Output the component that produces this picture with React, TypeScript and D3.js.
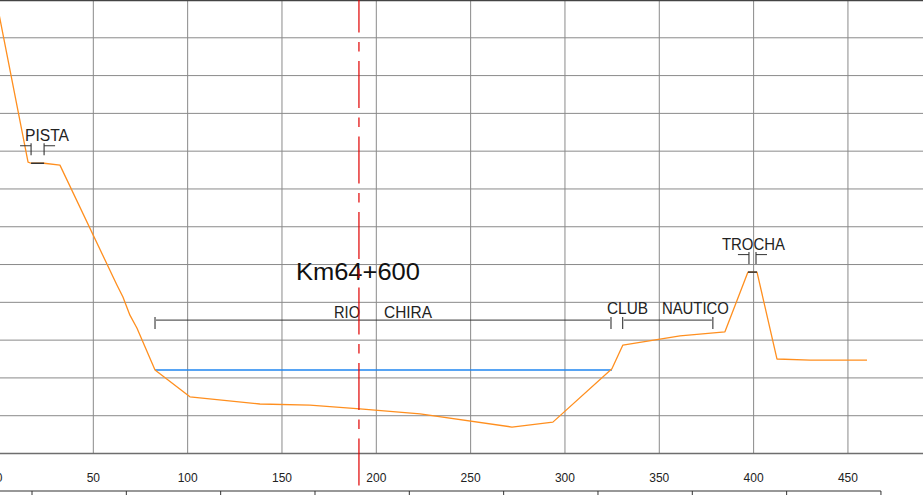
import React from "react";
import * as d3 from "d3";

// Ground profile: station (m) and elevation (m)
const groundStation = [0, 15.4, 17.0, 23.9, 32.3, 62.5, 65.7, 69.4, 73.1, 82.7, 101.2, 138.3, 164.8, 191.3, 223.2, 271.9, 293.6, 324.9, 330.7, 361.0, 384.8, 397.0, 401.8, 412.4, 429.9, 460.1];
const groundElev = [31.63, 27.71, 27.68, 27.68, 27.63, 24.46, 24.14, 23.66, 23.32, 22.21, 21.5, 21.31, 21.28, 21.18, 21.05, 20.7, 20.83, 22.24, 22.87, 23.11, 23.22, 24.8, 24.8, 22.5, 22.47, 22.47];

// Water surface
const waterStation = [82.7, 324.9];
const waterElev = [22.21, 22.21];

// Road platforms (dark segments) [start, end, elevation]
const platformNames = ["PISTA", "TROCHA"];
const platformStart = [17.0, 397.0];
const platformEnd = [23.9, 401.8];
const platformElev = [27.68, 24.8];
const platformLabelStation = [13.8, 383.2];
const platformLabelWidth = [44, 63];

// Dimension lines
const dimStart = [82.7, 330.6];
const dimEnd = [324.4, 378.4];
const dimElev = 23.53;

// Labels
const labelText = ["RIO", "CHIRA", "CLUB", "NAUTICO"];
const labelStation = [177.6, 204.1, 322.3, 351.4];
const labelElev = [23.59, 23.59, 23.68, 23.68];
const labelWidth = [26, 48, 41, 67];

const sectionTitle = "Km64+600";
const titleStation = 157.4;
const titleElev = 24.59;

const axisStation = 190.8;

const xTicks = [0, 50, 100, 150, 200, 250, 300, 350, 400, 450];
const yGrid = [20, 21, 22, 23, 24, 25, 26, 27, 28, 29, 30, 31, 32];
const secondaryTicks = [17.5, 67.5, 117.5, 167.5, 217.5, 267.5, 317.5, 367.5, 417.5, 467.5];

const W = 923;
const H = 495;

export default function App() {
  const x = d3.scaleLinear().domain([0, 490]).range([-1, 923.4]);
  const y = d3.scaleLinear().domain([20, 32]).range([453.5, 0]);

  const line = d3
    .line<[number, number]>()
    .x((d) => x(d[0]))
    .y((d) => y(d[1]));

  const ground: [number, number][] = groundStation.map((s, i) => [s, groundElev[i]]);
  const water: [number, number][] = waterStation.map((s, i) => [s, waterElev[i]]);

  const font = "'Liberation Sans', Arial, sans-serif";
  const gridColor = "#8a8a8a";
  const textColor = "#222";
  const dimColor = "#333";

  const dy = y(dimElev);

  return (
    <svg
      width={W}
      height={H}
      style={{ position: "absolute", left: 0, top: 0, background: "#fff" }}
    >
      {/* horizontal grid */}
      {yGrid.map((g) => (
        <line key={"h" + g} x1={0} x2={W} y1={y(g)} y2={y(g)} stroke={gridColor} strokeWidth={1} />
      ))}
      {/* vertical grid */}
      {xTicks.slice(1).map((t) => (
        <line key={"v" + t} x1={x(t)} x2={x(t)} y1={0} y2={y(20)} stroke={gridColor} strokeWidth={1} />
      ))}
      {/* top border */}
      <line x1={0} x2={W} y1={0.5} y2={0.5} stroke="#444" strokeWidth={1.5} />
      {/* bottom axis line */}
      <line x1={0} x2={W} y1={y(20)} y2={y(20)} stroke="#6e6e6e" strokeWidth={1.6} />

      {/* tick labels */}
      {xTicks.map((t) => (
        <text
          key={"t" + t}
          x={x(t)}
          y={481.5}
          textAnchor="middle"
          fontFamily={font}
          fontSize={12}
          fill={textColor}
        >
          {t}
        </text>
      ))}

      {/* secondary bottom line */}
      <line x1={0} x2={x(secondaryTicks[secondaryTicks.length - 1])} y1={491} y2={491} stroke="#333" strokeWidth={1.2} />
      {secondaryTicks.map((t) => (
        <line key={"s" + t} x1={x(t)} x2={x(t)} y1={491} y2={497} stroke="#333" strokeWidth={1} />
      ))}

      {/* water */}
      <path d={line(water) || ""} fill="none" stroke="#1f86f0" strokeWidth={1.3} />

      {/* ground */}
      <path d={line(ground) || ""} fill="none" stroke="#ff8f1f" strokeWidth={1.3} strokeLinejoin="round" />

      {/* platforms */}
      {platformNames.map((name, i) => {
        const x0 = x(platformStart[i]);
        const x1 = x(platformEnd[i]);
        const py = y(platformElev[i]);
        const left = x0 + (name === "TROCHA" ? 1 : 0);
        const right = x1 - (name === "TROCHA" ? 1 : 0);
        return (
          <g key={name}>
            <line x1={x0} x2={x1} y1={py} y2={py} stroke="#333" strokeWidth={1.5} />
            <line x1={left} x2={left} y1={py - 20} y2={py - 8} stroke={dimColor} strokeWidth={1.1} />
            <line x1={right} x2={right} y1={py - 20} y2={py - 8} stroke={dimColor} strokeWidth={1.1} />
            <line x1={left - 11} x2={left} y1={py - 17.5} y2={py - 17.5} stroke={dimColor} strokeWidth={1} />
            <line x1={right} x2={right + 11} y1={py - 17.5} y2={py - 17.5} stroke={dimColor} strokeWidth={1} />
            <text
              x={x(platformLabelStation[i])}
              y={py - 22}
              fontFamily={font}
              fontSize={16}
              fill={textColor}
              textLength={platformLabelWidth[i]}
              lengthAdjust="spacingAndGlyphs"
            >
              {name}
            </text>
          </g>
        );
      })}

      {/* dimension lines */}
      {dimStart.map((s, i) => {
        const a = x(s);
        const b = x(dimEnd[i]);
        return (
          <g key={"d" + i}>
            <line x1={a} x2={a} y1={dy - 3} y2={dy + 9} stroke={dimColor} strokeWidth={1.1} />
            <line x1={b} x2={b} y1={dy - 3} y2={dy + 9} stroke={dimColor} strokeWidth={1.1} />
            <line x1={a + 1} x2={b - 1} y1={dy} y2={dy} stroke={dimColor} strokeWidth={1} />
          </g>
        );
      })}

      {/* labels */}
      {labelText.map((t, i) => (
        <text
          key={t}
          x={x(labelStation[i])}
          y={y(labelElev[i])}
          fontFamily={font}
          fontSize={16}
          fill={textColor}
          textLength={labelWidth[i]}
          lengthAdjust="spacingAndGlyphs"
        >
          {t}
        </text>
      ))}

      {/* section title */}
      <text
        x={x(titleStation)}
        y={y(titleElev)}
        fontFamily={font}
        fontSize={23.5}
        fill="#111"
        textLength={124}
        lengthAdjust="spacingAndGlyphs"
      >
        {sectionTitle}
      </text>

      {/* axis line */}
      <line
        x1={x(axisStation)}
        x2={x(axisStation)}
        y1={0}
        y2={487}
        stroke="#e00000"
        strokeWidth={1.2}
        strokeDasharray="47 9.5 9.5 9.5"
        strokeDashoffset={14.5}
      />
    </svg>
  );
}
